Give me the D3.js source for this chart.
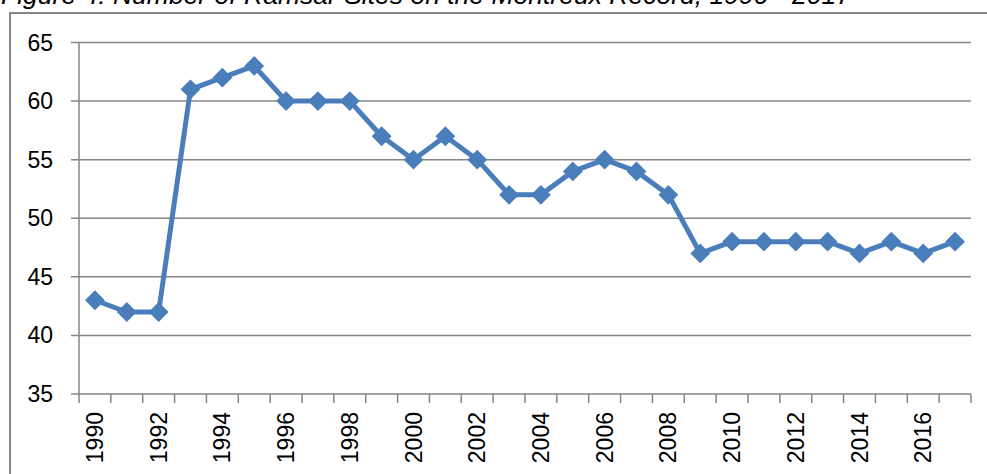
<!DOCTYPE html>
<html><head><meta charset="utf-8">
<script src="https://cdn.jsdelivr.net/npm/d3@7"></script>
<style>html,body{margin:0;padding:0;background:#fff;overflow:hidden}</style>
</head><body>
<svg id="c" width="987" height="474"></svg>
<script>
const title = "Figure 4: Number of Ramsar Sites on the Montreux Record, 1990 - 2017";
const years = d3.range(1990, 2018);
const sites = [43,42,42,61,62,63,60,60,60,57,55,57,55,52,52,54,55,54,52,47,48,48,48,48,47,48,47,48];
const yTicks = [35,40,45,50,55,60,65];
const xLabels = years.filter(y => (y - 1990) % 2 === 0);

const svg = d3.select("#c");
const font = "'Liberation Sans', Arial, sans-serif";
const gray = "#868686";
const blue = "#4a7ebb";

svg.append("text").attr("x", 1).attr("y", 4)
  .attr("font-family", font).attr("font-style", "italic").attr("font-size", 26.5)
  .attr("fill", "#000").text(title);

svg.append("rect").attr("x", 10).attr("y", 13).attr("width", 1000).attr("height", 500)
  .attr("fill", "none").attr("stroke", gray).attr("stroke-width", 2);

const L = 79, R = 971, T = 42.5, B = 394;
const x = d3.scaleBand().domain(years).range([L, R]);
const y = d3.scaleLinear().domain([35, 65]).range([B, T]);

// gridlines
svg.append("g").selectAll("line").data(yTicks).join("line")
  .attr("x1", L - 8).attr("x2", R).attr("y1", d => y(d)).attr("y2", d => y(d))
  .attr("stroke", gray).attr("stroke-width", 1.5);

// y labels
svg.append("g").selectAll("text").data(yTicks).join("text")
  .attr("x", 53).attr("y", d => y(d)).attr("dy", "0.35em")
  .attr("text-anchor", "end").attr("font-family", font).attr("font-size", 23)
  .attr("fill", "#000").text(d => d);

// y axis line
svg.append("line").attr("x1", L).attr("x2", L).attr("y1", T).attr("y2", B)
  .attr("stroke", gray).attr("stroke-width", 1.5);

// x ticks
const tickPos = years.map(d => x(d)).concat([R]);
svg.append("g").selectAll("line").data(tickPos).join("line")
  .attr("x1", d => d).attr("x2", d => d).attr("y1", B).attr("y2", B + 9)
  .attr("stroke", gray).attr("stroke-width", 1.5);

// x labels
svg.append("g").selectAll("text").data(xLabels).join("text")
  .attr("transform", d => `translate(${x(d) + x.bandwidth()/2},412) rotate(-90)`)
  .attr("dy", "0.35em").attr("text-anchor", "end")
  .attr("font-family", font).attr("font-size", 23).attr("fill", "#000").text(d => d);

// line
const pts = years.map((yr, i) => [x(yr) + x.bandwidth()/2, y(sites[i])]);
svg.append("path").attr("d", d3.line()(pts)).attr("fill", "none")
  .attr("stroke", blue).attr("stroke-width", 5).attr("stroke-linejoin", "round");

svg.append("g").selectAll("path").data(pts).join("path")
  .attr("transform", d => `translate(${d[0]},${d[1]})`)
  .attr("d", d3.symbol(d3.symbolDiamond2, 250)())
  .attr("fill", blue);
</script>
</body></html>
